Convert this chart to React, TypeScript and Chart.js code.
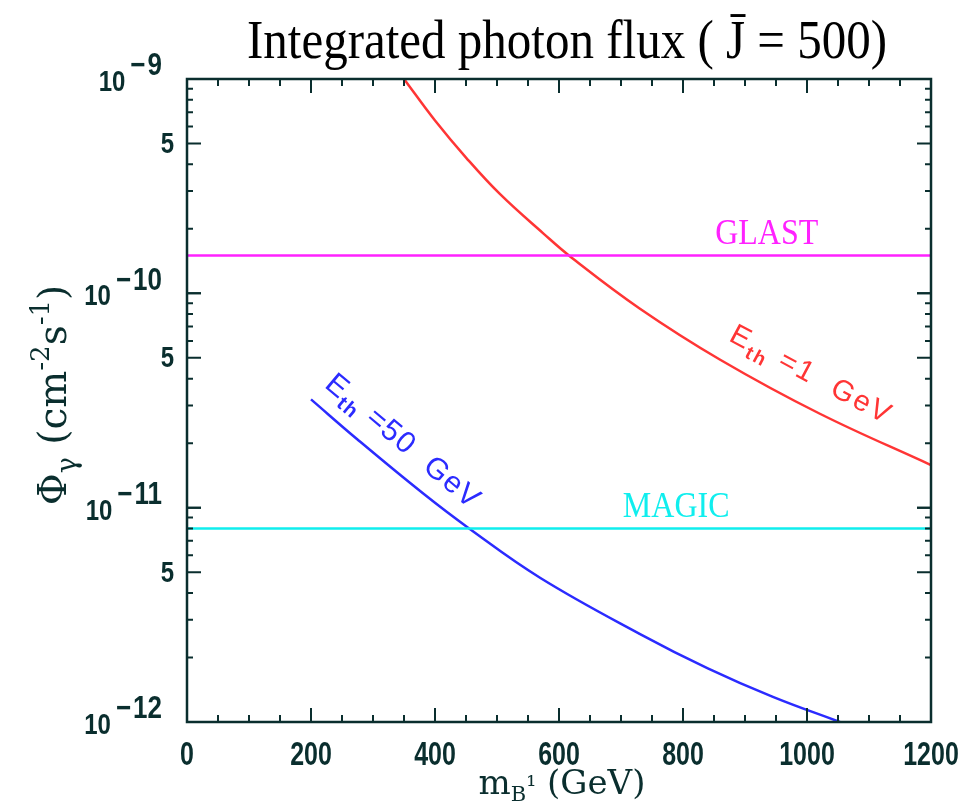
import React, { useEffect, useRef } from 'react';
import { Chart, registerables } from 'chart.js';

Chart.register(...registerables);

// ---- Data ----
const TITLE = 'Integrated photon flux ( J\u0304 = 500)';
const X_MIN = 0;
const X_MAX = 1200;
const Y_MIN = 1e-12;
const Y_MAX = 1e-9;
const X_TICKS = [0, 200, 400, 600, 800, 1000, 1200];
const Y_TICK_VALUES = [1e-9, 5e-10, 1e-10, 5e-11, 1e-11, 5e-12, 1e-12];
const Y_TICK_BASES = ['10', '5', '10', '5', '10', '5', '10'];
const Y_TICK_EXPS = ['9', '', '10', '', '11', '', '12'];

const MASS_1GEV = [350, 400, 450, 505, 575, 620, 730, 860, 1020, 1200];
const FLUX_1GEV = [1.0e-9, 6.4e-10, 4.3e-10, 2.9e-10, 1.9e-10, 1.47e-10, 8.5e-11, 4.9e-11, 2.75e-11, 1.58e-11];

const MASS_50GEV = [200, 275, 380, 455, 570, 730, 840, 945, 1053];
const FLUX_50GEV = [3.2e-11, 2.08e-11, 1.17e-11, 8.0e-12, 4.7e-12, 2.58e-12, 1.78e-12, 1.31e-12, 1.0e-12];

const GLAST_FLUX = 1.5e-10;
const MAGIC_FLUX = 8.0e-12;
const LIMIT_X = [0, 1200];

// ---- Styles ----
const RED = '#ff3535';
const BLUE = '#2b2bff';
const MAGENTA = '#ff22ff';
const CYAN = '#10eeee';
const AXIS = '#0a2e2e';

type Piece = { t: string; font: string; dy?: number; gap?: number };

function drawPieces(ctx: CanvasRenderingContext2D, pieces: Piece[], x: number, y: number, align: 'left' | 'center' | 'right', spacing = 0) {
  ctx.textAlign = 'left';
  let total = 0;
  const widths = pieces.map((p) => {
    ctx.font = p.font;
    const w = ctx.measureText(p.t).width + spacing * p.t.length + (p.gap || 0);
    total += w;
    return w;
  });
  let cx = align === 'left' ? x : align === 'center' ? x - total / 2 : x - total;
  pieces.forEach((p, i) => {
    ctx.font = p.font;
    const sx = cx + (p.gap || 0);
    if (spacing) {
      let px = sx;
      for (const ch of p.t) {
        ctx.fillText(ch, px, y + (p.dy || 0));
        px += ctx.measureText(ch).width + spacing;
      }
    } else {
      ctx.fillText(p.t, sx, y + (p.dy || 0));
    }
    cx += widths[i];
  });
  return total;
}

const overlay = {
  id: 'overlay',
  afterDatasetsDraw(chart: any) {
    const { ctx, chartArea: a, scales } = chart;
    const xs = scales.x;
    const ys = scales.y;
    ctx.save();

    // frame
    ctx.strokeStyle = AXIS;
    ctx.lineWidth = 2.5;
    ctx.strokeRect(a.left, a.top, a.right - a.left, a.bottom - a.top);

    // x ticks (inward, top & bottom)
    ctx.lineWidth = 2;
    for (let m = X_MIN; m <= X_MAX; m += 50) {
      const px = xs.getPixelForValue(m);
      const len = m % 200 === 0 ? 14 : 7;
      ctx.beginPath();
      ctx.moveTo(px, a.bottom);
      ctx.lineTo(px, a.bottom - len);
      ctx.moveTo(px, a.top);
      ctx.lineTo(px, a.top + len);
      ctx.stroke();
    }
    // y ticks (inward, left & right)
    for (let n = -12; n <= -10; n++) {
      for (let k = 1; k <= 10; k++) {
        const v = k * Math.pow(10, n);
        const py = ys.getPixelForValue(v);
        const len = k === 1 || k === 5 || k === 10 ? 14 : 6;
        ctx.beginPath();
        ctx.moveTo(a.left, py);
        ctx.lineTo(a.left + len, py);
        ctx.moveTo(a.right, py);
        ctx.lineTo(a.right - len, py);
        ctx.stroke();
      }
    }

    // x tick labels
    ctx.fillStyle = AXIS;
    ctx.textBaseline = 'alphabetic';
    ctx.textAlign = 'center';
    ctx.font = 'bold 25px "Liberation Sans"';
    X_TICKS.forEach((v) => {
      const px = xs.getPixelForValue(v);
      ctx.save();
      ctx.translate(px, a.bottom + 43);
      ctx.scale(1, 1.3);
      ctx.fillText(String(v), 0, 0);
      ctx.restore();
    });

    // y tick labels
    Y_TICK_VALUES.forEach((v, i) => {
      const py = ys.getPixelForValue(v);
      const right = a.left - 25;
      ctx.save();
      ctx.translate(0, py);
      ctx.scale(1, 1.2);
      const exp = Y_TICK_EXPS[i];
      if (exp) {
        drawPieces(
          ctx,
          [
            { t: Y_TICK_BASES[i], font: 'bold 24px "Liberation Sans"', dy: 10 },
            { t: '\u2212', font: 'bold 26px "Liberation Sans"', dy: -3, gap: 5 },
            { t: exp, font: 'bold 26px "Liberation Sans"', dy: -3, gap: 2 },
          ],
          right,
          0,
          'right'
        );
      } else {
        ctx.textAlign = 'right';
        ctx.font = 'bold 24px "Liberation Sans"';
        ctx.fillText(Y_TICK_BASES[i], right + 12, 8);
      }
      ctx.restore();
    });

    // axis titles
    ctx.fillStyle = AXIS;
    ctx.textBaseline = 'alphabetic';
    const serif = '"DejaVu Serif"';
    drawPieces(
      ctx,
      [
        { t: 'm', font: `34px ${serif}` },
        { t: 'B', font: `21px ${serif}`, dy: 7 },
        { t: '\u00b9', font: `25px ${serif}`, dy: 0 },
        { t: ' (GeV)', font: `34px ${serif}` },
      ],
      562,
      794,
      'center'
    );
    ctx.save();
    ctx.translate(66, 395);
    ctx.rotate(-Math.PI / 2);
    drawPieces(
      ctx,
      [
        { t: '\u03a6', font: `39px ${serif}` },
        { t: '\u03b3', font: `27px ${serif}`, dy: 10 },
        { t: ' (cm', font: `39px ${serif}` },
        { t: '-2', font: `26px ${serif}`, dy: -17 },
        { t: 's', font: `39px ${serif}` },
        { t: '-1', font: `26px ${serif}`, dy: -17 },
        { t: ')', font: `39px ${serif}` },
      ],
      0,
      0,
      'center'
    );
    ctx.restore();

    // chart title
    ctx.fillStyle = '#000000';
    ctx.save();
    ctx.translate(567, 58);
    ctx.scale(1, 1.1);
    ctx.textAlign = 'center';
    ctx.font = '49px "Liberation Serif"';
    ctx.fillText(TITLE, 0, 0);
    ctx.restore();

    // experiment labels
    const glY = ys.getPixelForValue(GLAST_FLUX);
    const mgY = ys.getPixelForValue(MAGIC_FLUX);
    ctx.font = '32px "Liberation Serif"';
    ctx.textAlign = 'center';
    ctx.fillStyle = MAGENTA;
    ctx.save();
    ctx.translate(xs.getPixelForValue(935), glY - 12);
    ctx.scale(1, 1.12);
    ctx.fillText('GLAST', 0, 0);
    ctx.restore();
    ctx.fillStyle = CYAN;
    ctx.save();
    ctx.translate(xs.getPixelForValue(789), mgY - 11);
    ctx.scale(1, 1.12);
    ctx.fillText('MAGIC', 0, 0);
    ctx.restore();

    // curve labels
    const sans = '"Liberation Sans"';
    ctx.fillStyle = RED;
    ctx.save();
    ctx.translate(xs.getPixelForValue(872), ys.getPixelForValue(5.2e-11) - 14);
    ctx.rotate((28 * Math.PI) / 180);
    drawPieces(
      ctx,
      [
        { t: 'E', font: `29px ${sans}` },
        { t: 'th', font: `bold 19px ${sans}`, dy: 7 },
        { t: ' =1  GeV', font: `29px ${sans}` },
      ],
      0,
      0,
      'left',
      2.5
    );
    ctx.restore();

    ctx.fillStyle = BLUE;
    ctx.save();
    ctx.translate(xs.getPixelForValue(220), ys.getPixelForValue(3.6e-11) - 2);
    ctx.rotate((40 * Math.PI) / 180);
    drawPieces(
      ctx,
      [
        { t: 'E', font: `30px ${sans}` },
        { t: 'th', font: `bold 20px ${sans}`, dy: 7 },
        { t: ' =50  GeV', font: `30px ${sans}` },
      ],
      0,
      0,
      'left',
      1.5
    );
    ctx.restore();

    ctx.restore();
  },
};

export default function App() {
  const ref = useRef<HTMLCanvasElement | null>(null);

  useEffect(() => {
    if (!ref.current) return;
    const pts = (xs: number[], ys: number[]) => xs.map((x, i) => ({ x, y: ys[i] }));
    const chart = new Chart(ref.current, {
      type: 'line',
      data: {
        datasets: [
          {
            label: 'GLAST',
            data: LIMIT_X.map((x) => ({ x, y: GLAST_FLUX })),
            borderColor: MAGENTA,
            borderWidth: 2.5,
            pointRadius: 0,
          },
          {
            label: 'MAGIC',
            data: LIMIT_X.map((x) => ({ x, y: MAGIC_FLUX })),
            borderColor: CYAN,
            borderWidth: 2.5,
            pointRadius: 0,
          },
          {
            label: 'E_th = 1 GeV',
            data: pts(MASS_1GEV, FLUX_1GEV),
            borderColor: RED,
            borderWidth: 2.5,
            pointRadius: 0,
            tension: 0.4,
          },
          {
            label: 'E_th = 50 GeV',
            data: pts(MASS_50GEV, FLUX_50GEV),
            borderColor: BLUE,
            borderWidth: 2.5,
            pointRadius: 0,
            tension: 0.4,
          },
        ],
      },
      options: {
        animation: false,
        responsive: false,
        maintainAspectRatio: false,
        layout: { padding: { left: 187, right: 30, top: 79, bottom: 83 } },
        scales: {
          x: { type: 'linear', min: X_MIN, max: X_MAX, display: false },
          y: { type: 'logarithmic', min: Y_MIN, max: Y_MAX, display: false },
        },
        plugins: {
          legend: { display: false },
          tooltip: { enabled: false },
          title: { display: false },
        },
      },
      plugins: [overlay],
    } as any);
    return () => chart.destroy();
  }, []);

  return (
    <div style={{ position: 'fixed', left: 0, top: 0, width: 961, height: 805, background: '#ffffff' }}>
      <canvas ref={ref} width={961} height={805} style={{ display: 'block' }} />
    </div>
  );
}
